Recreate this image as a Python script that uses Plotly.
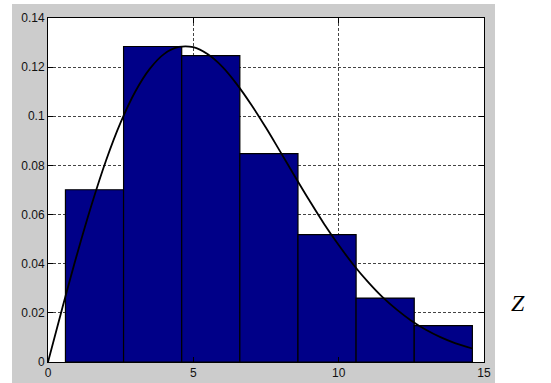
import plotly.graph_objects as go

# Histogram bins (centers) and heights
bin_centers = [1.6, 3.6, 5.6, 7.6, 9.6, 11.6, 13.6]
bin_heights = [0.0701, 0.1284, 0.1247, 0.0848, 0.0518, 0.0260, 0.0148]
bin_width = 2.0

# Fitted density curve
curve_x = [0, 0.5, 1, 1.5, 2, 2.5, 3, 3.5, 4, 4.5, 5, 5.5, 6, 6.5, 7, 7.5,
           8, 8.5, 9, 9.5, 10, 10.5, 11, 11.5, 12, 12.5, 13, 13.5, 14, 14.6]
curve_y = [0, 0.0223, 0.0439, 0.0640, 0.0821, 0.0975, 0.1100, 0.1193, 0.1254,
           0.1282, 0.1281, 0.1252, 0.1201, 0.1130, 0.1046, 0.0953, 0.0854,
           0.0754, 0.0656, 0.0562, 0.0476, 0.0397, 0.0327, 0.0265, 0.0213,
           0.0168, 0.0131, 0.0101, 0.0077, 0.0055]

x_ticks = [0, 5, 10, 15]
y_ticks = [0, 0.02, 0.04, 0.06, 0.08, 0.1, 0.12, 0.14]
y_ticklabels = ["0", "0.02", "0.04", "0.06", "0.08", "0.1", "0.12", "0.14"]

fig = go.Figure()
fig.add_trace(go.Bar(
    x=bin_centers, y=bin_heights, width=bin_width,
    marker=dict(color="#000088", line=dict(color="black", width=1.2)),
    showlegend=False, hoverinfo="skip"))
fig.add_trace(go.Scatter(
    x=curve_x, y=curve_y, mode="lines",
    line=dict(color="black", width=1.8, shape="spline"),
    showlegend=False, hoverinfo="skip"))

W, H = 551, 383
L, R, T, B = 48, 484, 18, 362
pw, ph = R - L, B - T

def px_x(p):
    return (p - L) / pw

def px_y(p):
    return (B - p) / ph

fig.add_shape(type="rect", xref="paper", yref="paper",
              x0=px_x(12), x1=px_x(495), y0=px_y(383), y1=px_y(4),
              fillcolor="#cccccc", line=dict(width=0), layer="below")
fig.add_shape(type="rect", xref="paper", yref="paper",
              x0=0, x1=1, y0=0, y1=1,
              fillcolor="white", line=dict(width=0), layer="below")

fig.add_annotation(text="<i>Z</i>", xref="paper", yref="paper",
                   x=px_x(527), y=px_y(318), showarrow=False,
                   font=dict(family="Liberation Serif", size=24, color="black"))

axis_common = dict(showline=True, linecolor="black", linewidth=1,
                   mirror="ticks", ticks="inside", ticklen=5,
                   tickcolor="black", showgrid=True, gridcolor="#444444",
                   griddash="3px,2px", gridwidth=1, zeroline=False,
                   automargin=False,
                   tickfont=dict(family="Liberation Sans, Arial", size=12,
                                 color="#111111"))

fig.update_xaxes(range=[0, 15], tickvals=x_ticks, **axis_common)
fig.update_yaxes(range=[0, 0.14], tickvals=y_ticks, ticktext=y_ticklabels,
                 **axis_common)

fig.update_layout(width=W, height=H,
                  margin=dict(l=L, r=W - R, t=T, b=H - B, pad=0,
                              autoexpand=False),
                  paper_bgcolor="white", plot_bgcolor="rgba(0,0,0,0)",
                  bargap=0)

fig.write_html("out.html",
               config={"displayModeBar": False, "staticPlot": True},
               post_script="document.body.style.margin='0';"
                           "document.body.style.overflow='hidden';")
